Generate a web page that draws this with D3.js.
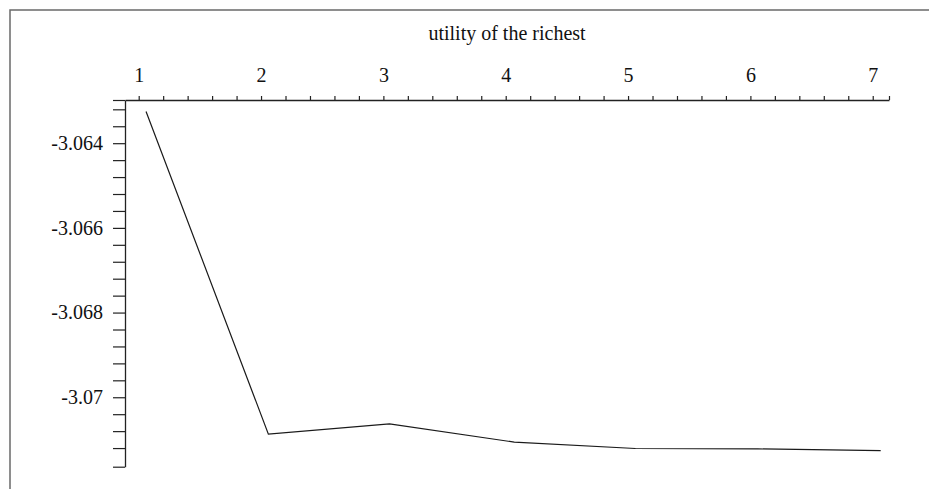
<!DOCTYPE html>
<html>
<head>
<meta charset="utf-8">
<script src="https://cdn.jsdelivr.net/npm/d3@7"></script>
<style>
  html, body { margin: 0; padding: 0; background: #fff; }
  svg { display: block; }
</style>
</head>
<body>
<svg id="chart" width="929" height="489"></svg>
<script>
// ---- data ----
const xValues = [1.06, 2.06, 3.05, 4.07, 5.06, 6.06, 7.065];
const yValues = [-3.06325, -3.07087, -3.07063, -3.07106, -3.07121, -3.07122, -3.07126];
const xTickLabels = [1, 2, 3, 4, 5, 6, 7];
const yTickLabels = [-3.064, -3.066, -3.068, -3.07];
const title = "utility of the richest";

// ---- layout ----
const W = 929, H = 489;
const FONT = '"Liberation Serif", "Times New Roman", serif';
const plot = { left: 125, right: 889, top: 100, bottom: 466.7 };
const xDomain = [0.888, 7.133];
const yDomain = [-3.06298, -3.07164];

const svg = d3.select("#chart");

// frame (only left and top edges visible in the image)
svg.append("rect")
  .attr("x", 10).attr("y", 10)
  .attr("width", W + 20).attr("height", H + 20)
  .attr("fill", "none").attr("stroke", "#6a6a6a").attr("stroke-width", 1.5);

const x = d3.scaleLinear().domain(xDomain).range([plot.left, plot.right]);
const y = d3.scaleLinear().domain(yDomain).range([plot.top, plot.bottom]);

// minor tick values
const xMinor = d3.range(0, 31).map(i => +(1 + i * 0.2).toFixed(1));
xMinor.push(xDomain[1]);
const yMinor = d3.range(0, 21).map(i => +(-3.0632 - i * 0.0004).toFixed(4)).filter(v => v >= yDomain[1] - 1e-9);
yMinor.unshift(yDomain[0]);
yMinor.push(yDomain[1]);

const isLabelX = v => xTickLabels.some(l => Math.abs(l - v) < 1e-6);
const isLabelY = v => yTickLabels.some(l => Math.abs(l - v) < 1e-6);

// x axis on top
const xAxis = d3.axisTop(x)
  .tickValues(xMinor)
  .tickSize(4)
  .tickSizeOuter(0)
  .tickPadding(14)
  .tickFormat(v => isLabelX(v) ? d3.format("d")(v) : "");

const gx = svg.append("g")
  .attr("transform", `translate(0,${plot.top})`)
  .call(xAxis)
  .attr("font-family", FONT)
  .attr("font-size", 20);
gx.select(".domain").attr("stroke", "#222").attr("stroke-width", 1.3);
gx.selectAll(".tick line").attr("stroke", "#222").attr("stroke-width", 1.2);
gx.selectAll(".tick text").attr("fill", "#111");

// y axis on left
const yAxis = d3.axisLeft(y)
  .tickValues(yMinor)
  .tickSize(12)
  .tickSizeOuter(0)
  .tickPadding(10)
  .tickFormat(v => isLabelY(v) ? String(v) : "");

const gy = svg.append("g")
  .attr("transform", `translate(${plot.left},0)`)
  .call(yAxis)
  .attr("font-family", FONT)
  .attr("font-size", 20);
gy.select(".domain").attr("stroke", "#222").attr("stroke-width", 1.3);
gy.selectAll(".tick line").attr("stroke", "#222").attr("stroke-width", 1.2);
gy.selectAll(".tick text").attr("fill", "#111");

// title
svg.append("text")
  .attr("x", (plot.left + plot.right) / 2)
  .attr("y", 40)
  .attr("text-anchor", "middle")
  .attr("font-family", FONT)
  .attr("font-size", 20)
  .attr("fill", "#111")
  .text(title);

// data line
const pts = xValues.map((xv, i) => [xv, yValues[i]]);
const line = d3.line().x(d => x(d[0])).y(d => y(d[1]));
svg.append("path")
  .datum(pts)
  .attr("d", line)
  .attr("fill", "none")
  .attr("stroke", "#1a1a1a")
  .attr("stroke-width", 1.2);
</script>
</body>
</html>
